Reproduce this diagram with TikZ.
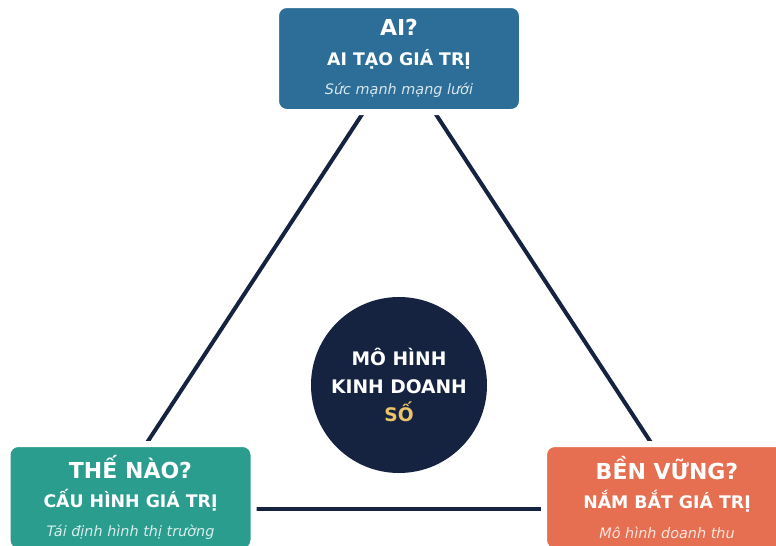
\documentclass[tikz,border=0pt]{standalone}
\usepackage{fontspec}
\setmainfont{DejaVu Sans}
\usepackage{xcolor}
\definecolor{whoblue}{HTML}{2C6E97}
\definecolor{howteal}{HTML}{2A9D8F}
\definecolor{keepcoral}{HTML}{E76F51}
\definecolor{hubnavy}{HTML}{152341}
\definecolor{hubgold}{HTML}{E9C46A}
\usepackage{tikz}
\usetikzlibrary{backgrounds}

\newcommand{\cardhead}[1]{{\fontsize{16.5}{22}\selectfont\bfseries #1}}
\newcommand{\cardsub}[1]{{\fontsize{13}{22}\selectfont\bfseries #1}}
\newcommand{\cardnote}[2]{{\fontsize{10.8}{22}\selectfont\itshape\color{white!82!#1}#2}}

\begin{document}
\begin{tikzpicture}[
    x=0.75pt, y=-0.75pt,
    card/.style={rectangle, rounded corners=8pt, draw=white, line width=4.5pt, fill=#1, minimum width=184.5pt, minimum height=80.25pt, align=center, text=white, inner sep=0pt, font=\fontsize{12}{22}\selectfont},
    hub/.style={circle, fill=hubnavy, minimum size=132pt, inner sep=0pt, align=center, text=white, font=\fontsize{14}{21}\selectfont\bfseries},
    edge/.style={line width=3pt, draw=hubnavy},
]
    \useasboundingbox (0,0) rectangle (776,546);

    \node[card=whoblue] (who) at (399,58.5) {\cardhead{AI?}\\\cardsub{AI TẠO GIÁ TRỊ}\\\cardnote{whoblue}{Sức mạnh mạng lưới}};
    \node[card=howteal] (how) at (130.5,497.5) {\cardhead{THẾ NÀO?}\\\cardsub{CẤU HÌNH GIÁ TRỊ}\\\cardnote{howteal}{Tái định hình thị trường}};
    \node[card=keepcoral] (keep) at (667,497.5) {\cardhead{BỀN VỮNG?}\\\cardsub{NẮM BẮT GIÁ TRỊ}\\\cardnote{keepcoral}{Mô hình doanh thu}};
    \node[hub] (hub) at (399,385) {MÔ HÌNH\\KINH DOANH\\\textcolor{hubgold}{SỐ}};

    % triangle corners sit under the cards
    \coordinate (ctop) at (399,58);
    \coordinate (cleft) at (103.5,509);
    \coordinate (cright) at (694.5,509);

    \begin{scope}[on background layer]
        \draw[edge] (ctop) -- (cleft);
        \draw[edge] (ctop) -- (cright);
        \draw[edge] (cleft) -- (cright);
    \end{scope}
\end{tikzpicture}
\end{document}
